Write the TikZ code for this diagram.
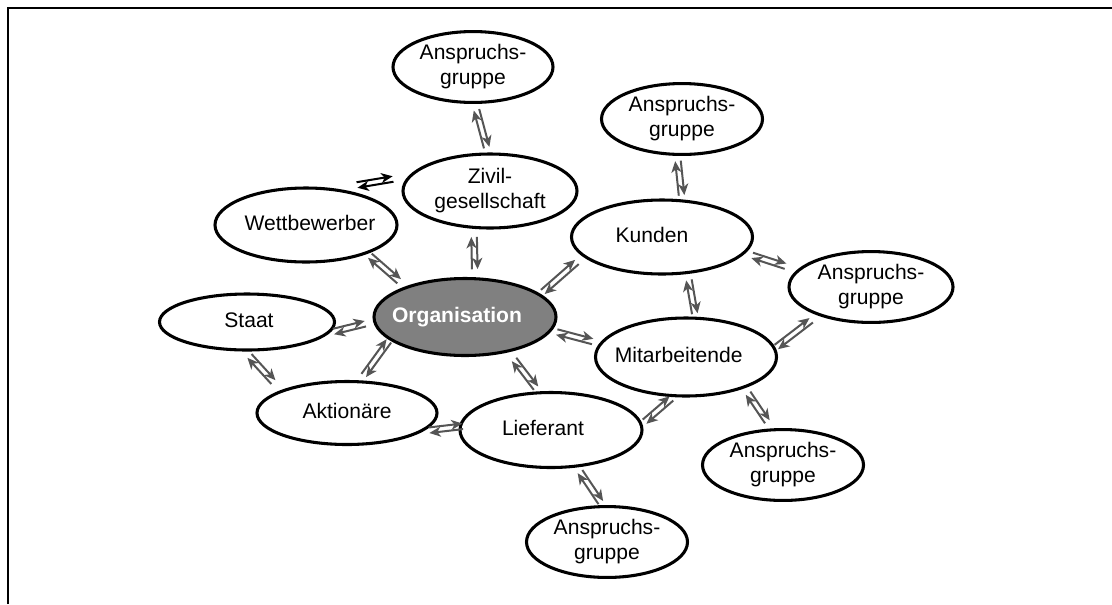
\documentclass[tikz,border=0pt]{standalone}
\usepackage{fontspec}
\setmainfont{Liberation Sans}
\usetikzlibrary{shapes.geometric,arrows.meta,calc}
\definecolor{arrgray}{HTML}{555555}
\definecolor{orggray}{HTML}{808080}
\newcommand\tx[2]{\makebox[0pt]{\hspace*{#1}\begin{tabular}{@{}c@{}}#2\end{tabular}}}
\newcommand\txtwo[1]{\makebox[0pt]{\raisebox{-2.5pt}{\begin{tabular}{@{}c@{}}#1\end{tabular}}}}
\tikzset{
  stake/.style={ellipse, draw=black, line width=2.3pt, fill=white, inner sep=0pt,
    font=\fontsize{15.8}{18.8}\selectfont},
  orgbox/.style={stake, fill=orggray, text=white,
    font=\fontsize{15.8}{18.8}\selectfont\bfseries},
  shaft/.style={line width=1.5pt, draw=arrgray},
  blackshaft/.style={line width=1.5pt, draw=black},
  tipfwd/.style={-{Stealth[length=8.5pt,width=7.5pt,inset=2.5pt]}},
  tipback/.style={{Stealth[length=8.5pt,width=7.5pt,inset=2.5pt]}-},
  frameline/.style={line width=1.6pt, draw=black}
}
% #1 style, #2 from, #3 to, #4 shorten at start (px), #5 shorten at end (px)
\newcommand\dbl[5][shaft]{%
  \path (#2) -- (#3) coordinate[pos=0] (p1) coordinate[pos=1] (p2);
  \draw[#1, tipfwd, shorten <=#4*0.75pt, shorten >=#5*0.75pt]
    ($(p1)!2.1pt!90:(p2)$) -- ($(p2)!2.1pt!-90:(p1)$);
  \draw[#1, tipback, shorten <=#4*0.75pt, shorten >=#5*0.75pt]
    ($(p1)!2.1pt!-90:(p2)$) -- ($(p2)!2.1pt!90:(p1)$);
}
\begin{document}
\begin{tikzpicture}[x=0.75pt, y=-0.75pt]
\useasboundingbox (0,0) rectangle (1112,604);
\fill[white] (0,0) rectangle (1112,604);
\draw[frameline] (8,604) -- (8,8) -- (1112,8);

\node[stake, minimum width=120pt, minimum height=51pt] (a1) at (473,67) {\txtwo{Anspruchs-\\gruppe}};
\node[stake, minimum width=130.5pt, minimum height=55.5pt] (ziv) at (490,191) {\txtwo{Zivil-\\gesellschaft}};
\node[stake, minimum width=136.5pt, minimum height=55.5pt] (wett) at (306,225) {\tx{6pt}{Wettbewerber}};
\node[stake, minimum width=131.25pt, minimum height=42pt] (staat) at (247,322) {\tx{3pt}{Staat}};
\node[orgbox, minimum width=136.5pt, minimum height=57.75pt] (org) at (465,317) {\tx{-12pt}{Organisation}};
\node[stake, minimum width=135pt, minimum height=47.25pt] (akt) at (347,413) {\tx{0pt}{Aktionäre}};
\node[stake, minimum width=136.5pt, minimum height=56.25pt] (lief) at (551,430) {\tx{-12pt}{Lieferant}};
\node[stake, minimum width=120.75pt, minimum height=51.75pt] (a5) at (607,542) {\txtwo{Anspruchs-\\gruppe}};
\node[stake, minimum width=135.75pt, minimum height=55.5pt] (kund) at (662,237) {\tx{-15pt}{Kunden}};
\node[stake, minimum width=120.75pt, minimum height=52.5pt] (a2) at (682,119) {\txtwo{Anspruchs-\\gruppe}};
\node[stake, minimum width=135.75pt, minimum height=58.5pt] (mit) at (686,357) {\tx{-11pt}{Mitarbeitende}};
\node[stake, minimum width=123pt, minimum height=51pt] (a3) at (871,287) {\txtwo{Anspruchs-\\gruppe}};
\node[stake, minimum width=120.75pt, minimum height=51pt] (a4) at (783,465) {\txtwo{Anspruchs-\\gruppe}};

\dbl{a1.-87}{ziv.93}{6}{5}
\dbl{ziv.-113}{org.76}{8}{8}
\dbl{wett.-25}{org.153}{3}{8}
\dbl{staat.-7}{org.183}{3}{8}
\dbl{akt.68}{org.197}{6}{1}
\dbl{staat.-93}{akt.161}{6}{11}
\dbl{akt.-13}{lief.178}{5}{-4}
\dbl{org.-39}{lief.108}{9}{4}
\dbl{org.-9}{mit.171}{5}{7}
\dbl{org.17}{kund.194}{3}{8}
\dbl{kund.62}{a2.-97}{4}{5}
\dbl{kund.-55}{mit.77}{6}{3}
\dbl{kund.-11}{a3.167}{7}{12}
\dbl{mit.6}{a3.-152}{1}{8}
\dbl{mit.-28}{a4.107}{6}{8}
\dbl{lief.4}{mit.-108}{3}{2}
\dbl{lief.-55}{a5.97}{5}{3}

\coordinate (fl1) at (357,185);
\coordinate (fl2) at (393,179);
\dbl[blackshaft]{fl1}{fl2}{0}{0}
\end{tikzpicture}
\end{document}
